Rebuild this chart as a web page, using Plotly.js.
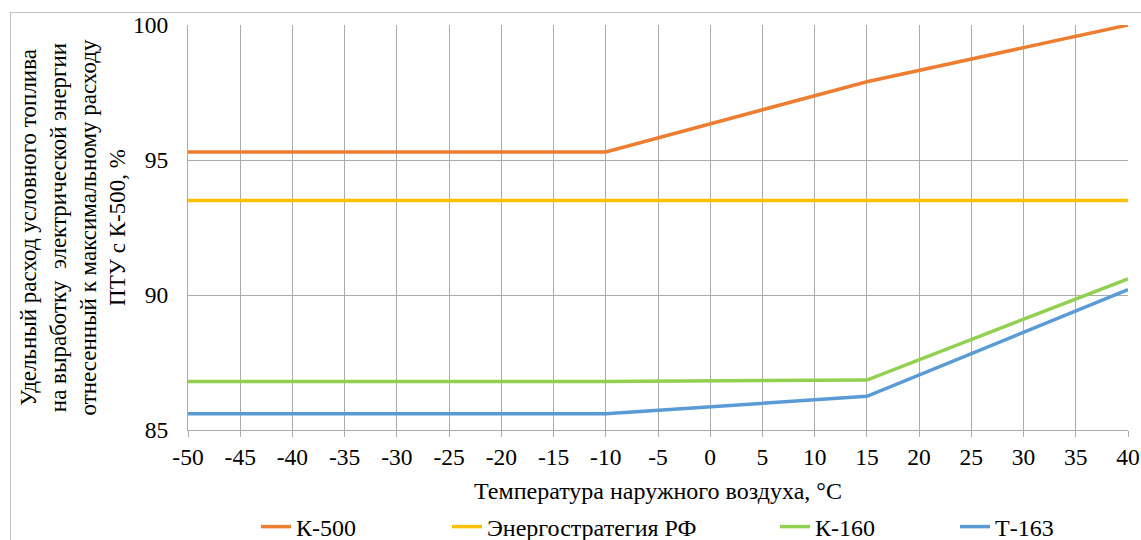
<!DOCTYPE html>
<html>
<head>
<meta charset="utf-8">
<script src="https://cdn.plot.ly/plotly-3.0.1.min.js"></script>
<style>
  html, body { margin: 0; padding: 0; background: #fff; }
  #wrap { position: relative; width: 1141px; height: 540px; overflow: hidden; }
  #frame { position: absolute; left: 10px; top: 12px; width: 1200px; height: 600px;
           border-left: 1px solid #c4c4c4; border-top: 1px solid #c4c4c4; pointer-events: none; }
  #chart { position: absolute; left: 0; top: 0; width: 1141px; height: 540px; }
</style>
</head>
<body>
<div id="wrap">
  <div id="chart"></div>
  <div id="frame"></div>
</div>
<script>
// Outdoor air temperature, °C
const temps = [-50, -10, 15, 40];

// Specific fuel consumption relative to the K-500 maximum, %
const k500 = [95.3, 95.3, 97.9, 100.0];
const energyStrategy = [93.5, 93.5, 93.5, 93.5];
const k160 = [86.8, 86.8, 86.85, 90.6];
const t163 = [85.6, 85.6, 86.25, 90.2];

const seriesNames = ['К-500', 'Энергостратегия РФ', 'К-160', 'Т-163'];
const seriesColors = ['#ED7D31', '#FFC000', '#92D050', '#5B9BD5'];
const seriesValues = [k500, energyStrategy, k160, t163];

const xTicks = [-50, -45, -40, -35, -30, -25, -20, -15, -10, -5, 0, 5, 10, 15, 20, 25, 30, 35, 40];
const yTicks = [85, 90, 95, 100];

const fontFamily = 'Liberation Serif, Times New Roman, serif';
const gridGray = '#ababab';
const W = 1141, H = 540;

// one legend box per series so each entry sits at its own spot along the bottom row
const legendIds = ['legend', 'legend2', 'legend3', 'legend4'];
const legendLeftPx = [256, 447, 775, 955];

const traces = seriesValues.map((vals, i) => ({
  type: 'scatter',
  mode: 'lines',
  x: temps,
  y: vals,
  name: seriesNames[i],
  legend: legendIds[i],
  line: { color: seriesColors[i], width: 3.5 },
  hoverinfo: 'skip'
}));

function legendBox(i) {
  return {
    orientation: 'h',
    xref: 'container', yref: 'container',
    x: legendLeftPx[i] / W, xanchor: 'left',
    y: (H - 527) / H, yanchor: 'middle',
    bgcolor: 'rgba(0,0,0,0)',
    borderwidth: 0,
    font: { family: fontFamily, size: 24, color: '#000000' }
  };
}

const layout = {
  width: W,
  height: H,
  paper_bgcolor: '#ffffff',
  plot_bgcolor: '#ffffff',
  margin: { l: 188, r: 13, t: 25, b: 110, autoexpand: false },
  font: { family: fontFamily, size: 24, color: '#000000' },
  showlegend: true,
  legend: legendBox(0),
  legend2: legendBox(1),
  legend3: legendBox(2),
  legend4: legendBox(3),
  xaxis: {
    range: [-50, 40],
    tickvals: xTicks,
    ticktext: xTicks.map(String),
    showgrid: true,
    gridcolor: gridGray,
    gridwidth: 1,
    zeroline: false,
    showline: true,
    linecolor: gridGray,
    linewidth: 1,
    ticks: 'outside',
    ticklen: 6,
    tickcolor: gridGray,
    tickfont: { family: fontFamily, size: 23.5, color: '#000000' },
    title: { text: 'Температура наружного воздуха, °С', font: { family: fontFamily, size: 24, color: '#000000' }, standoff: 14 },
    automargin: false,
    fixedrange: true
  },
  yaxis: {
    range: [85, 100],
    tickvals: yTicks,
    ticktext: yTicks.map(String),
    showgrid: true,
    gridcolor: gridGray,
    gridwidth: 1,
    zeroline: false,
    showline: true,
    linecolor: gridGray,
    linewidth: 1,
    ticks: '',
    ticklabelstandoff: 14,
    tickfont: { family: fontFamily, size: 23.5, color: '#000000' },
    title: {
      text: 'Удельный расход условного топлива<br>на выработку  электрической энергии<br>отнесенный к максимальному расходу<br>ПТУ с К-500, %',
      font: { family: fontFamily, size: 23, color: '#000000' },
      standoff: 0
    },
    automargin: false,
    fixedrange: true
  },
  hovermode: false
};

Plotly.newPlot('chart', traces, layout, { displayModeBar: false, staticPlot: true });
</script>
</body>
</html>
